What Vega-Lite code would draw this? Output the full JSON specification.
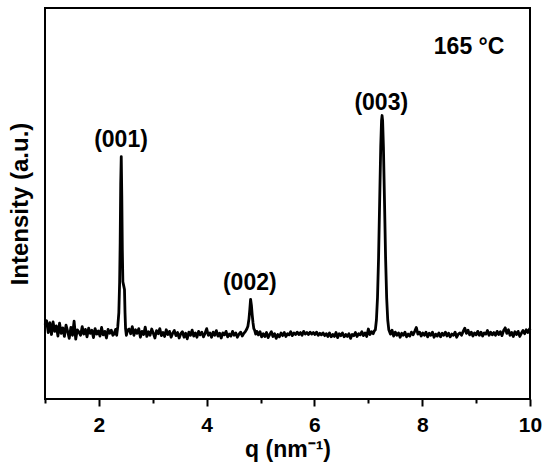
{
  "$schema": "https://vega.github.io/schema/vega-lite/v6.json",
  "width": 485,
  "height": 391,
  "autosize": {"type": "none"},
  "padding": {"left": 45, "top": 8, "right": 20, "bottom": 76},
  "background": "white",
  "config": {
    "font": "Liberation Sans",
    "view": {"stroke": "black", "strokeWidth": 2}
  },
  "datasets": {
    "trace": [
      {"q":1.00,"I":19.0},{"q":1.03,"I":20.0},{"q":1.06,"I":17.0},{"q":1.09,"I":19.5},{"q":1.12,"I":16.5},{"q":1.15,"I":19.7},{"q":1.18,"I":17.3},{"q":1.21,"I":18.7},{"q":1.24,"I":16.1},{"q":1.27,"I":19.4},{"q":1.30,"I":16.8},{"q":1.33,"I":18.2},{"q":1.36,"I":16.0},{"q":1.39,"I":18.9},{"q":1.42,"I":17.3},{"q":1.45,"I":15.5},{"q":1.48,"I":18.3},{"q":1.51,"I":16.3},{"q":1.54,"I":19.9},{"q":1.57,"I":15.3},{"q":1.60,"I":17.7},{"q":1.63,"I":17.1},{"q":1.66,"I":16.3},{"q":1.69,"I":18.5},{"q":1.72,"I":16.6},{"q":1.75,"I":17.8},{"q":1.78,"I":15.9},{"q":1.81,"I":18.1},{"q":1.84,"I":16.8},{"q":1.87,"I":17.6},{"q":1.90,"I":15.7},{"q":1.93,"I":18.0},{"q":1.96,"I":16.6},{"q":1.99,"I":17.4},{"q":2.02,"I":16.1},{"q":2.05,"I":18.3},{"q":2.08,"I":16.4},{"q":2.11,"I":17.3},{"q":2.14,"I":15.6},{"q":2.17,"I":17.8},{"q":2.20,"I":16.8},{"q":2.23,"I":17.6},{"q":2.26,"I":16.3},
      {"q":2.28,"I":16.6},{"q":2.31,"I":17.8},{"q":2.33,"I":16.3},{"q":2.35,"I":18.5},{"q":2.37,"I":22.0},{"q":2.385,"I":30.0},{"q":2.395,"I":40.0},{"q":2.405,"I":55.0},{"q":2.415,"I":62.0},{"q":2.425,"I":52.0},{"q":2.435,"I":38.0},{"q":2.445,"I":30.0},{"q":2.46,"I":29.0},{"q":2.475,"I":28.0},{"q":2.485,"I":22.0},{"q":2.495,"I":18.0},{"q":2.51,"I":16.3},{"q":2.53,"I":17.6},
      {"q":2.56,"I":17.9},{"q":2.59,"I":16.7},{"q":2.62,"I":18.5},{"q":2.65,"I":16.3},{"q":2.68,"I":17.7},{"q":2.71,"I":16.8},{"q":2.74,"I":18.0},{"q":2.77,"I":15.8},{"q":2.80,"I":17.3},{"q":2.83,"I":16.5},{"q":2.86,"I":18.4},{"q":2.89,"I":16.0},{"q":2.92,"I":17.2},{"q":2.95,"I":16.3},{"q":2.98,"I":17.9},{"q":3.01,"I":16.8},{"q":3.04,"I":15.6},{"q":3.07,"I":17.5},{"q":3.10,"I":16.7},{"q":3.13,"I":18.0},{"q":3.16,"I":16.2},{"q":3.19,"I":17.0},{"q":3.22,"I":16.0},{"q":3.25,"I":17.7},{"q":3.28,"I":16.5},{"q":3.31,"I":17.3},{"q":3.34,"I":15.8},{"q":3.37,"I":16.8},{"q":3.40,"I":17.5},{"q":3.43,"I":16.2},{"q":3.46,"I":17.0},{"q":3.49,"I":15.6},{"q":3.52,"I":16.7},{"q":3.55,"I":17.2},{"q":3.58,"I":15.8},{"q":3.61,"I":16.8},{"q":3.64,"I":15.4},{"q":3.67,"I":17.1},{"q":3.70,"I":16.3},{"q":3.73,"I":17.6},{"q":3.76,"I":16.1},{"q":3.79,"I":16.9},{"q":3.82,"I":15.8},{"q":3.85,"I":17.3},{"q":3.88,"I":16.4},{"q":3.91,"I":17.1},{"q":3.94,"I":15.9},{"q":3.97,"I":16.8},{"q":4.00,"I":18.0},{"q":4.03,"I":16.3},{"q":4.06,"I":16.9},{"q":4.09,"I":15.8},{"q":4.12,"I":17.1},{"q":4.15,"I":16.3},{"q":4.18,"I":17.5},{"q":4.21,"I":16.1},{"q":4.24,"I":16.8},{"q":4.27,"I":15.6},{"q":4.30,"I":16.9},{"q":4.33,"I":16.4},{"q":4.36,"I":17.3},{"q":4.39,"I":15.9},{"q":4.42,"I":16.6},{"q":4.45,"I":16.1},{"q":4.48,"I":17.3},{"q":4.51,"I":16.3},{"q":4.54,"I":16.9},{"q":4.57,"I":15.8},{"q":4.60,"I":16.6},{"q":4.63,"I":17.1},{"q":4.66,"I":16.1},{"q":4.69,"I":16.8},
      {"q":4.72,"I":17.3},{"q":4.745,"I":17.9},{"q":4.765,"I":18.6},{"q":4.785,"I":20.5},{"q":4.80,"I":22.8},{"q":4.815,"I":25.5},{"q":4.83,"I":24.0},{"q":4.845,"I":21.5},{"q":4.86,"I":19.5},{"q":4.875,"I":18.0},{"q":4.89,"I":17.6},{"q":4.91,"I":16.6},{"q":4.93,"I":17.3},
      {"q":4.96,"I":16.4},{"q":4.99,"I":17.2},{"q":5.02,"I":15.9},{"q":5.05,"I":16.7},{"q":5.08,"I":16.0},{"q":5.11,"I":17.0},{"q":5.14,"I":15.7},{"q":5.17,"I":16.5},{"q":5.20,"I":17.2},{"q":5.23,"I":16.0},{"q":5.26,"I":16.7},{"q":5.29,"I":15.5},{"q":5.32,"I":16.5},{"q":5.35,"I":15.9},{"q":5.38,"I":16.9},{"q":5.41,"I":16.2},{"q":5.44,"I":17.0},{"q":5.47,"I":16.0},{"q":5.50,"I":16.7},{"q":5.53,"I":16.4},{"q":5.56,"I":17.2},{"q":5.59,"I":16.2},{"q":5.62,"I":16.9},{"q":5.65,"I":16.5},{"q":5.68,"I":17.1},{"q":5.71,"I":16.5},{"q":5.74,"I":17.0},{"q":5.77,"I":16.3},{"q":5.80,"I":17.3},{"q":5.83,"I":16.6},{"q":5.86,"I":17.0},{"q":5.89,"I":16.5},{"q":5.92,"I":17.1},{"q":5.95,"I":16.6},{"q":5.98,"I":17.0},{"q":6.01,"I":16.5},{"q":6.04,"I":17.1},{"q":6.07,"I":16.3},{"q":6.10,"I":16.8},{"q":6.13,"I":16.4},{"q":6.16,"I":16.9},{"q":6.19,"I":16.2},{"q":6.22,"I":16.7},{"q":6.25,"I":16.0},{"q":6.28,"I":16.9},{"q":6.31,"I":15.9},{"q":6.34,"I":16.5},{"q":6.37,"I":16.0},{"q":6.40,"I":17.0},{"q":6.43,"I":15.7},{"q":6.46,"I":16.7},{"q":6.49,"I":16.2},{"q":6.52,"I":16.9},{"q":6.55,"I":15.9},{"q":6.58,"I":16.5},{"q":6.61,"I":16.0},{"q":6.64,"I":16.7},{"q":6.67,"I":15.5},{"q":6.70,"I":16.5},{"q":6.73,"I":16.2},{"q":6.76,"I":17.0},{"q":6.79,"I":16.0},{"q":6.82,"I":16.7},{"q":6.85,"I":16.4},{"q":6.88,"I":17.2},{"q":6.91,"I":16.2},{"q":6.94,"I":16.9},{"q":6.97,"I":16.0},{"q":7.00,"I":17.9},{"q":7.03,"I":16.5},{"q":7.06,"I":17.2},{"q":7.09,"I":16.7},{"q":7.11,"I":17.4},
      {"q":7.13,"I":17.7},{"q":7.15,"I":20.2},{"q":7.17,"I":25.9},{"q":7.19,"I":36.2},{"q":7.21,"I":50.5},{"q":7.23,"I":64.5},{"q":7.245,"I":71.2},{"q":7.255,"I":72.5},{"q":7.265,"I":71.2},{"q":7.28,"I":64.5},{"q":7.30,"I":50.5},{"q":7.32,"I":36.2},{"q":7.34,"I":25.9},{"q":7.36,"I":20.2},{"q":7.38,"I":17.7},
      {"q":7.41,"I":16.6},{"q":7.44,"I":17.6},{"q":7.47,"I":16.1},{"q":7.50,"I":17.1},{"q":7.53,"I":16.3},{"q":7.56,"I":16.9},{"q":7.59,"I":15.8},{"q":7.62,"I":16.8},{"q":7.65,"I":16.3},{"q":7.68,"I":17.1},{"q":7.71,"I":15.9},{"q":7.74,"I":16.6},{"q":7.77,"I":16.1},{"q":7.80,"I":17.1},{"q":7.83,"I":16.4},{"q":7.86,"I":17.3},{"q":7.89,"I":18.3},{"q":7.92,"I":16.6},{"q":7.95,"I":17.1},{"q":7.98,"I":16.1},{"q":8.01,"I":16.9},{"q":8.04,"I":16.3},{"q":8.07,"I":17.1},{"q":8.10,"I":15.9},{"q":8.13,"I":16.8},{"q":8.16,"I":16.3},{"q":8.19,"I":17.1},{"q":8.22,"I":15.8},{"q":8.25,"I":16.6},{"q":8.28,"I":16.1},{"q":8.31,"I":16.9},{"q":8.34,"I":15.9},{"q":8.37,"I":16.8},{"q":8.40,"I":16.3},{"q":8.43,"I":17.1},{"q":8.46,"I":16.1},{"q":8.49,"I":16.8},{"q":8.52,"I":15.9},{"q":8.55,"I":16.6},{"q":8.58,"I":16.3},{"q":8.61,"I":17.1},{"q":8.64,"I":15.8},{"q":8.67,"I":16.6},{"q":8.70,"I":16.9},{"q":8.73,"I":16.3},{"q":8.76,"I":17.3},{"q":8.79,"I":18.1},{"q":8.82,"I":16.8},{"q":8.85,"I":17.6},{"q":8.88,"I":16.4},{"q":8.91,"I":17.1},{"q":8.94,"I":16.1},{"q":8.97,"I":16.9},{"q":9.00,"I":16.4},{"q":9.03,"I":17.3},{"q":9.06,"I":16.3},{"q":9.09,"I":17.1},{"q":9.12,"I":16.1},{"q":9.15,"I":16.9},{"q":9.18,"I":16.6},{"q":9.21,"I":17.5},{"q":9.24,"I":16.3},{"q":9.27,"I":17.1},{"q":9.30,"I":16.4},{"q":9.33,"I":17.0},{"q":9.36,"I":16.3},{"q":9.39,"I":17.3},{"q":9.42,"I":16.5},{"q":9.45,"I":17.2},{"q":9.48,"I":16.2},{"q":9.51,"I":17.5},{"q":9.54,"I":18.2},{"q":9.57,"I":16.8},{"q":9.60,"I":17.7},{"q":9.63,"I":16.3},{"q":9.66,"I":17.0},{"q":9.69,"I":16.0},{"q":9.72,"I":17.2},{"q":9.75,"I":16.5},{"q":9.78,"I":17.3},{"q":9.81,"I":16.0},{"q":9.84,"I":16.8},{"q":9.87,"I":17.5},{"q":9.90,"I":16.7},{"q":9.93,"I":17.7},{"q":9.96,"I":17.0},{"q":9.99,"I":17.9},{"q":10.0,"I":17.5}
    ],
    "labels": [
      {"q": 2.41, "I": 66.2, "text": "(001)"},
      {"q": 4.80, "I": 29.7, "text": "(002)"},
      {"q": 7.24, "I": 75.8, "text": "(003)"},
      {"q": 8.87, "I": 90.0, "text": "165 °C"}
    ]
  },
  "layer": [
    {
      "data": {"name": "trace"},
      "mark": {"type": "line", "color": "black", "strokeWidth": 2.8, "strokeJoin": "round"},
      "encoding": {
        "x": {
          "field": "q", "type": "quantitative",
          "scale": {"domain": [1, 10], "nice": false, "zero": false},
          "axis": {
            "title": "q (nm⁻¹)",
            "values": [1, 2, 3, 4, 5, 6, 7, 8, 9, 10],
            "format": "d",
            "labelExpr": "datum.value % 2 === 0 ? datum.label : ''",
            "grid": false,
            "domain": false,
            "tickColor": "black",
            "tickWidth": 2,
            "tickSize": {"condition": {"test": "datum.value % 2 === 1", "value": 4}, "value": 7},
            "labelFont": "Liberation Sans",
            "labelFontSize": 21,
            "labelFontWeight": "bold",
            "labelColor": "black",
            "labelPadding": 8,
            "labelFlush": false,
            "labelOverlap": false,
            "titleFont": "Liberation Sans",
            "titleFontSize": 23,
            "titleFontWeight": "bold",
            "titleColor": "black",
            "titlePadding": 3
          }
        },
        "y": {
          "field": "I", "type": "quantitative",
          "scale": {"domain": [0, 100], "nice": false, "zero": false},
          "axis": {
            "title": "Intensity (a.u.)",
            "grid": false,
            "domain": false,
            "ticks": false,
            "labels": false,
            "titleFont": "Liberation Sans",
            "titleFontSize": 24,
            "titleFontWeight": "bold",
            "titleColor": "black",
            "titlePadding": 13
          }
        }
      }
    },
    {
      "data": {"name": "labels"},
      "mark": {"type": "text", "font": "Liberation Sans", "fontSize": 23, "fontWeight": "bold", "color": "black", "baseline": "middle", "align": "center"},
      "encoding": {
        "x": {"field": "q", "type": "quantitative"},
        "y": {"field": "I", "type": "quantitative"},
        "text": {"field": "text"}
      }
    }
  ]
}
